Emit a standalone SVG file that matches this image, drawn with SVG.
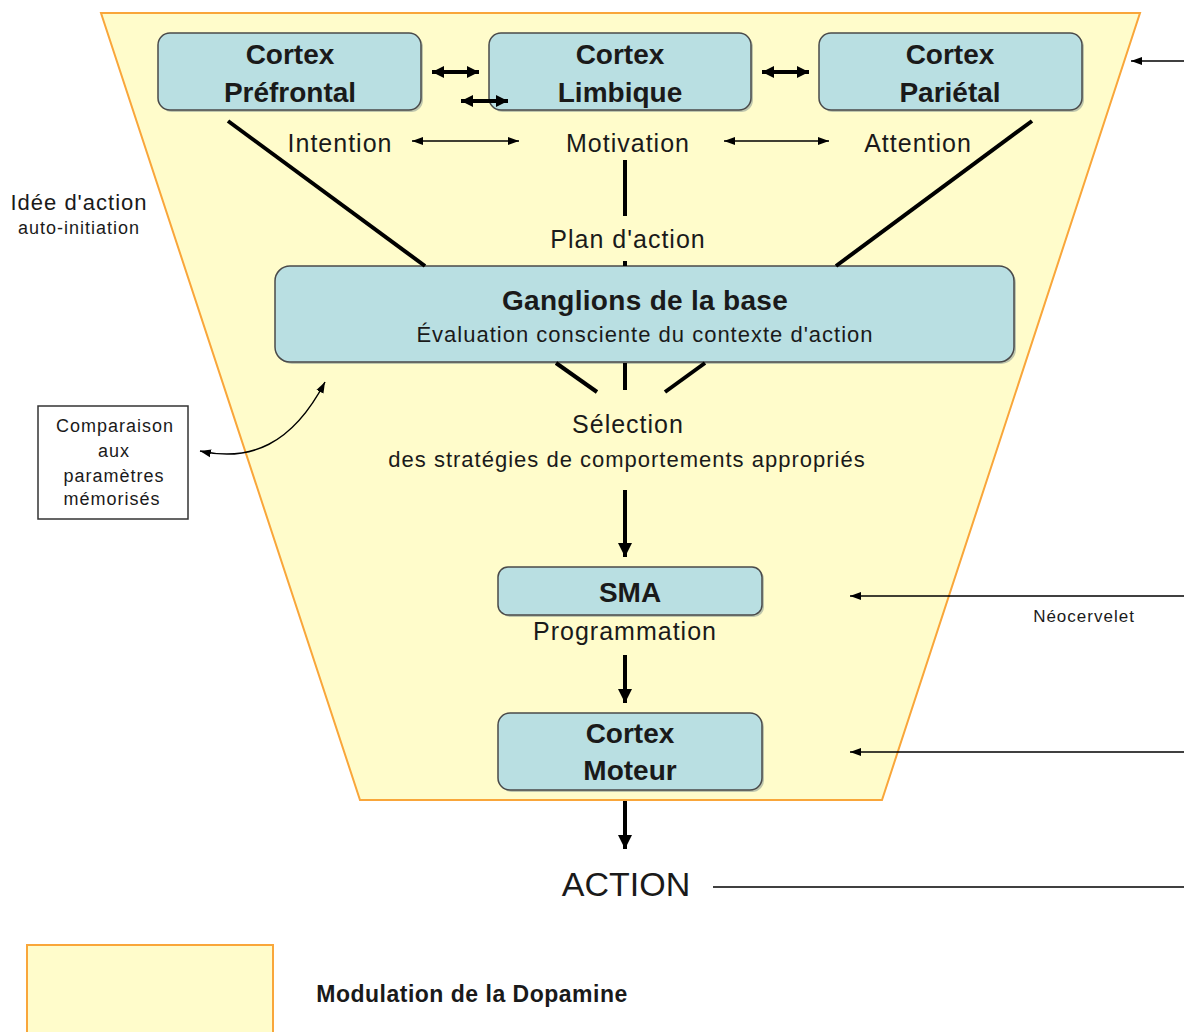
<svg xmlns="http://www.w3.org/2000/svg" width="1184" height="1032" viewBox="0 0 1184 1032">
<defs>
<style>
text{font-family:"Liberation Sans",Arial,sans-serif;fill:#1a1a1a;text-anchor:middle}
.b{font-weight:bold;font-size:28px}
.n{font-size:25px;letter-spacing:1px}
.s{font-size:22px;letter-spacing:1px}
.xs{font-size:18px;letter-spacing:1px}
.box{fill:#b9dfe2;stroke:#4a4a4a;stroke-width:1.5}
.sh{fill:#7d8f90;opacity:0.5}
.thick{stroke:#000;stroke-width:4;fill:none}
.thin{stroke:#000;stroke-width:1.5;fill:none}
</style>
<marker id="ah" markerUnits="userSpaceOnUse" markerWidth="16" markerHeight="16" refX="14" refY="8" orient="auto-start-reverse"><path d="M0,1 L14,8 L0,15 Z" fill="#000"/></marker>
<marker id="ah2" markerUnits="userSpaceOnUse" markerWidth="14" markerHeight="14" refX="12" refY="7" orient="auto-start-reverse"><path d="M0,1 L12,7 L0,13 Z" fill="#000"/></marker>
<marker id="at" markerUnits="userSpaceOnUse" markerWidth="12" markerHeight="10" refX="11" refY="5" orient="auto-start-reverse"><path d="M0,1 L11,5 L0,9 Z" fill="#000"/></marker>
</defs>
<rect width="1184" height="1032" fill="#fff"/>
<g id="dopamine-zone">
<polygon points="101,13 1140,13 882,800 360,800" fill="#fffccb" stroke="#f9a63a" stroke-width="2"/>
</g>
<g id="cortex-prefrontal">
<rect class="sh" x="160" y="35" width="263" height="77" rx="12"/>
<rect class="box" x="158" y="33" width="263" height="77" rx="12"/>
<text class="b" x="290" y="64">Cortex</text>
<text class="b" x="290" y="102">Préfrontal</text>
</g>
<g id="cortex-limbique">
<rect class="sh" x="491" y="35" width="262" height="77" rx="12"/>
<rect class="box" x="489" y="33" width="262" height="77" rx="12"/>
<text class="b" x="620" y="64">Cortex</text>
<text class="b" x="620" y="102">Limbique</text>
</g>
<g id="cortex-parietal">
<rect class="sh" x="821" y="35" width="263" height="77" rx="12"/>
<rect class="box" x="819" y="33" width="263" height="77" rx="12"/>
<text class="b" x="950" y="64">Cortex</text>
<text class="b" x="950" y="102">Pariétal</text>
</g>
<g id="labels-top">
<text class="n" x="340" y="152">Intention</text>
<text class="n" x="628" y="152">Motivation</text>
<text class="n" x="918" y="152">Attention</text>
<text class="n" x="628" y="248">Plan d'action</text>
</g>
<g id="ganglions">
<rect class="sh" x="277" y="268" width="739" height="96" rx="15"/>
<rect class="box" x="275" y="266" width="739" height="96" rx="15"/>
<text class="b" x="645" y="310" style="letter-spacing:0.3px">Ganglions de la base</text>
<text class="s" x="645" y="342">Évaluation consciente du contexte d'action</text>
</g>
<g id="selection">
<text class="n" x="628" y="433">Sélection</text>
<text class="s" x="627" y="467">des stratégies de comportements appropriés</text>
</g>
<g id="sma">
<rect class="sh" x="500" y="569" width="264" height="48" rx="10"/>
<rect class="box" x="498" y="567" width="264" height="48" rx="10"/>
<text class="b" x="630" y="602">SMA</text>
<text class="n" x="625" y="640">Programmation</text>
</g>
<g id="cortex-moteur">
<rect class="sh" x="500" y="715" width="264" height="77" rx="12"/>
<rect class="box" x="498" y="713" width="264" height="77" rx="12"/>
<text class="b" x="630" y="743">Cortex</text>
<text class="b" x="630" y="780">Moteur</text>
</g>
<g id="action">
<text x="626" y="896" style="font-size:34px">ACTION</text>
</g>
<g id="neocervelet">
<text class="xs" x="1084" y="622" style="font-size:17px">Néocervelet</text>
</g>
<g id="idee">
<text class="s" x="79" y="210">Idée d'action</text>
<text class="xs" x="79" y="234">auto-initiation</text>
</g>
<g id="comparaison">
<rect x="38" y="406" width="150" height="113" fill="#fff" stroke="#333" stroke-width="1.5"/>
<text class="xs" x="115" y="432">Comparaison</text>
<text class="xs" x="114" y="457">aux</text>
<text class="xs" x="114" y="482">paramètres</text>
<text class="xs" x="112" y="505">mémorisés</text>
</g>
<g id="legend">
<rect x="27" y="945" width="246" height="100" fill="#fffccb" stroke="#f9a63a" stroke-width="2"/>
<text x="472" y="1002" style="font-size:23px;font-weight:bold;letter-spacing:0.5px">Modulation de la Dopamine</text>
</g>
<g id="connectors">
<line class="thick" x1="228" y1="121" x2="425" y2="266"/>
<line class="thick" x1="1032" y1="121" x2="836" y2="266"/>
<line class="thick" x1="625" y1="160" x2="625" y2="216"/>
<line class="thick" x1="625" y1="261" x2="625" y2="266"/>
<line class="thick" x1="556" y1="363" x2="597" y2="392"/>
<line class="thick" x1="625" y1="363" x2="625" y2="390"/>
<line class="thick" x1="705" y1="363" x2="665" y2="392"/>
<line class="thick" x1="625" y1="490" x2="625" y2="557" marker-end="url(#ah)"/>
<line class="thick" x1="625" y1="655" x2="625" y2="703" marker-end="url(#ah)"/>
<line class="thick" x1="625" y1="801" x2="625" y2="849" marker-end="url(#ah)"/>
<line class="thick" x1="432" y1="72" x2="479" y2="72" marker-start="url(#ah2)" marker-end="url(#ah2)"/>
<line class="thick" x1="461" y1="101" x2="508" y2="101" marker-start="url(#ah2)" marker-end="url(#ah2)"/>
<line class="thick" x1="762" y1="72" x2="809" y2="72" marker-start="url(#ah2)" marker-end="url(#ah2)"/>
<line class="thin" x1="412" y1="141" x2="519" y2="141" marker-start="url(#at)" marker-end="url(#at)"/>
<line class="thin" x1="724" y1="141" x2="829" y2="141" marker-start="url(#at)" marker-end="url(#at)"/>
<line class="thin" x1="1184" y1="61" x2="1131" y2="61" marker-end="url(#at)"/>
<line class="thin" x1="1184" y1="596" x2="850" y2="596" marker-end="url(#at)"/>
<line class="thin" x1="1184" y1="752" x2="850" y2="752" marker-end="url(#at)"/>
<line class="thin" x1="713" y1="887" x2="1184" y2="887"/>
<path class="thin" d="M200,451 C250,462 292,445 325,382" marker-start="url(#at)" marker-end="url(#at)"/>
</g>
</svg>
